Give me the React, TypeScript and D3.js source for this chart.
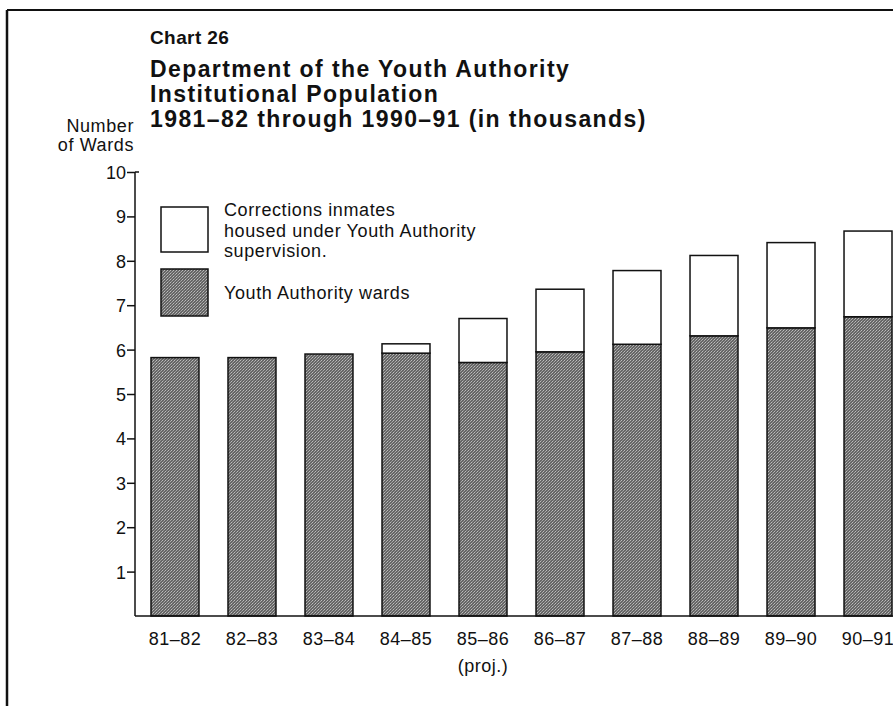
import React, { useEffect, useRef } from 'react';
import * as d3 from 'd3';

// fiscal years along the x axis
const years = ['81–82', '82–83', '83–84', '84–85', '85–86', '86–87', '87–88', '88–89', '89–90', '90–91'];
// Youth Authority wards (thousands)
const wards = [5.82, 5.82, 5.9, 5.92, 5.71, 5.95, 6.12, 6.31, 6.49, 6.74];
// Corrections inmates housed under YA supervision (thousands)
const corrections = [0, 0, 0, 0.21, 0.99, 1.41, 1.66, 1.81, 1.92, 1.93];
const yTicks = [1, 2, 3, 4, 5, 6, 7, 8, 9, 10];
const titleLines = [
  'Department of the Youth Authority',
  'Institutional Population',
  '1981–82 through 1990–91 (in thousands)',
];
const legendItems = [
  { key: 'corrections', lines: ['Corrections inmates', 'housed under Youth Authority', 'supervision.'] },
  { key: 'wards', lines: ['Youth Authority wards'] },
];

const W = 893;
const H = 706;
const FONT = '"Liberation Sans", Arial, Helvetica, sans-serif';
const INK = '#111';

const App: React.FC = () => {
  const ref = useRef<SVGSVGElement | null>(null);

  useEffect(() => {
    if (!ref.current) return;
    const svg = d3.select(ref.current);
    svg.selectAll('*').remove();

    const axisX = 135;
    const baseY = 616;

    // halftone-ish texture for the dark bars
    const defs = svg.append('defs');
    const pat = defs.append('pattern')
      .attr('id', 'stipple')
      .attr('width', 3)
      .attr('height', 3)
      .attr('patternUnits', 'userSpaceOnUse');
    pat.append('rect').attr('width', 3).attr('height', 3).attr('fill', '#666');
    pat.append('rect').attr('x', 0).attr('y', 0).attr('width', 1).attr('height', 1).attr('fill', '#bdbdbd');
    pat.append('rect').attr('x', 2).attr('y', 1).attr('width', 1).attr('height', 1).attr('fill', '#aaa');
    pat.append('rect').attr('x', 1).attr('y', 2).attr('width', 1).attr('height', 1).attr('fill', '#999');

    svg.append('rect').attr('width', W).attr('height', H).attr('fill', '#fff');

    // page frame (top and left rules)
    svg.append('line').attr('x1', 7).attr('x2', W).attr('y1', 10).attr('y2', 10)
      .attr('stroke', INK).attr('stroke-width', 2);
    svg.append('line').attr('x1', 7).attr('x2', 7).attr('y1', 10).attr('y2', H)
      .attr('stroke', INK).attr('stroke-width', 2.5);

    const x = d3.scaleBand<string>()
      .domain(years)
      .range([151, 892])
      .paddingInner(0.377)
      .paddingOuter(0);

    const y = d3.scaleLinear().domain([0, 10]).range([baseY, 172]);

    // titles
    svg.append('text')
      .attr('x', 150).attr('y', 44)
      .attr('font-family', FONT).attr('font-weight', 700).attr('font-size', 19)
      .attr('letter-spacing', 0.4)
      .attr('fill', INK)
      .text('Chart 26');

    svg.append('g').selectAll('text')
      .data(titleLines)
      .enter()
      .append('text')
      .attr('x', 150)
      .attr('y', (_, i) => 77 + i * 25)
      .attr('font-family', FONT).attr('font-weight', 700).attr('font-size', 23)
      .attr('letter-spacing', 1.4)
      .attr('fill', INK)
      .text((d) => d);

    // y axis title
    svg.append('g').selectAll('text')
      .data(['Number', 'of Wards'])
      .enter()
      .append('text')
      .attr('x', 134)
      .attr('y', (_, i) => 132 + i * 19)
      .attr('text-anchor', 'end')
      .attr('font-family', FONT).attr('font-size', 18)
      .attr('letter-spacing', 0.6)
      .attr('fill', INK)
      .text((d) => d);

    // bars: wards (dark) + corrections (white) stacked
    const rows = years.map((yr, i) => ({ yr, w: wards[i], c: corrections[i] }));
    const bars = svg.append('g');
    bars.selectAll('.ward')
      .data(rows)
      .enter()
      .append('rect')
      .attr('x', (d) => x(d.yr)!)
      .attr('y', (d) => y(d.w))
      .attr('width', x.bandwidth())
      .attr('height', (d) => baseY - y(d.w))
      .attr('fill', 'url(#stipple)')
      .attr('stroke', INK)
      .attr('stroke-width', 1.5);

    bars.selectAll('.corr')
      .data(rows.filter((d) => d.c > 0))
      .enter()
      .append('rect')
      .attr('x', (d) => x(d.yr)!)
      .attr('y', (d) => y(d.w + d.c))
      .attr('width', x.bandwidth())
      .attr('height', (d) => y(d.w) - y(d.w + d.c))
      .attr('fill', '#fff')
      .attr('stroke', INK)
      .attr('stroke-width', 1.5);

    // axes
    const yAxis = d3.axisLeft(y).tickValues(yTicks).tickSize(8).tickPadding(1).tickFormat(d3.format('d'));
    const gy = svg.append('g').attr('transform', `translate(${axisX},0)`).call(yAxis);
    gy.select('.domain').remove();
    gy.selectAll('line').attr('stroke', INK).attr('stroke-width', 1.5);
    gy.selectAll('text')
      .attr('font-family', FONT).attr('font-size', 18).attr('fill', INK)
      .attr('dy', '0.36em');

    svg.append('line')
      .attr('x1', axisX).attr('x2', axisX).attr('y1', y(10)).attr('y2', baseY)
      .attr('stroke', INK).attr('stroke-width', 1.5);
    svg.append('line')
      .attr('x1', axisX).attr('x2', axisX + 4).attr('y1', y(10)).attr('y2', y(10))
      .attr('stroke', INK).attr('stroke-width', 1.5);
    svg.append('line')
      .attr('x1', axisX).attr('x2', W).attr('y1', baseY).attr('y2', baseY)
      .attr('stroke', INK).attr('stroke-width', 1.5);

    const xAxis = d3.axisBottom(x).tickSize(0).tickPadding(0);
    const gx = svg.append('g').attr('transform', `translate(0,${baseY})`).call(xAxis);
    gx.select('.domain').remove();
    gx.selectAll('text')
      .attr('font-family', FONT).attr('font-size', 18).attr('fill', INK)
      .attr('letter-spacing', 0.5)
      .attr('dy', 0).attr('y', 29);

    svg.append('text')
      .attr('x', x('85–86')! + x.bandwidth() / 2)
      .attr('y', 672)
      .attr('text-anchor', 'middle')
      .attr('font-family', FONT).attr('font-size', 18).attr('fill', INK)
      .attr('letter-spacing', 0.5)
      .text('(proj.)');

    // legend
    const lg = svg.append('g').attr('transform', 'translate(161,207)');
    lg.append('rect').attr('width', 47).attr('height', 45)
      .attr('fill', '#fff').attr('stroke', INK).attr('stroke-width', 1.5);
    lg.append('rect').attr('y', 62).attr('width', 47).attr('height', 47)
      .attr('fill', 'url(#stipple)').attr('stroke', INK).attr('stroke-width', 1.5);

    legendItems.forEach((item, k) => {
      item.lines.forEach((line, j) => {
        lg.append('text')
          .attr('x', 63)
          .attr('y', (k === 0 ? 9 : 92) + j * 20.5)
          .attr('font-family', FONT).attr('font-size', 18).attr('fill', INK)
          .attr('letter-spacing', 0.6)
          .text(line);
      });
    });
  }, []);

  return (
    <svg
      ref={ref}
      width={W}
      height={H}
      style={{ position: 'absolute', left: 0, top: 0, display: 'block' }}
    />
  );
};

export default App;
